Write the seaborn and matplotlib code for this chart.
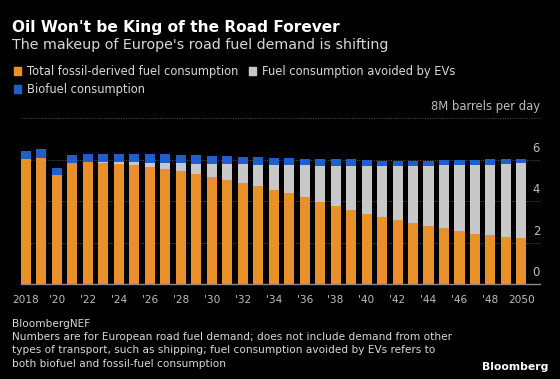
import numpy as np
import pandas as pd
import matplotlib
matplotlib.use("Agg")
import matplotlib.pyplot as plt
import matplotlib.transforms as mtransforms
from matplotlib.patches import Patch
import seaborn as sns

BG = "#000000"; ORANGE = "#E8912B"; GREY = "#C8C8C8"; BLUE = "#1E5FCC"
WHITE = "#FFFFFF"; LIGHT = "#D8D8D8"; MUTED = "#BDBDBD"; GRID = "#555555"

years = list(range(2018, 2051))
fossil = [6.05, 6.11, 5.25, 5.84, 5.87, 5.83, 5.79, 5.73, 5.65, 5.56, 5.44,
          5.32, 5.19, 5.05, 4.89, 4.73, 4.53, 4.38, 4.19, 3.98, 3.79, 3.59,
          3.38, 3.22, 3.10, 2.94, 2.81, 2.70, 2.59, 2.44, 2.37, 2.29, 2.21]
ev_avoided = [0.00, 0.00, 0.00, 0.00, 0.02, 0.04, 0.08, 0.14, 0.19, 0.27, 0.39,
              0.49, 0.60, 0.73, 0.89, 1.03, 1.20, 1.35, 1.54, 1.72, 1.89, 2.09,
              2.30, 2.46, 2.58, 2.74, 2.87, 3.03, 3.14, 3.32, 3.39, 3.52, 3.63]
biofuel = [0.38, 0.40, 0.35, 0.38, 0.41, 0.43, 0.43, 0.43, 0.46, 0.44, 0.39,
           0.41, 0.40, 0.41, 0.36, 0.38, 0.35, 0.38, 0.33, 0.35, 0.34, 0.34,
           0.30, 0.26, 0.26, 0.26, 0.26, 0.24, 0.24, 0.21, 0.26, 0.22, 0.22]
tick_years = ["2018", "'20", "'22", "'24", "'26", "'28", "'30", "'32", "'34",
              "'36", "'38", "'40", "'42", "'44", "'46", "'48", "2050"]
y_ticks = [0, 2, 4, 6, 8]
y_labels = ["0", "2", "4", "6", "8M barrels per day"]

df = pd.DataFrame({"year": years, "fossil": fossil, "ev": ev_avoided, "bio": biofuel})
df["fossil_ev"] = df["fossil"] + df["ev"]
df["total"] = df["fossil_ev"] + df["bio"]

sns.set_style("dark")
plt.rcParams["font.family"] = ["DejaVu Sans"]

fig = plt.figure(figsize=(5.6, 3.79), dpi=100, facecolor=BG)
ax = fig.add_axes([20.5/560, (379-284.3)/379, (540-20.5)/560, (284.3-118.3)/379])
ax.set_facecolor(BG)

# stacked look: draw totals back to front
for col, c in [("total", BLUE), ("fossil_ev", GREY), ("fossil", ORANGE)]:
    sns.barplot(data=df, x="year", y=col, color=c, saturation=1, width=0.65,
                linewidth=0, errorbar=None, ax=ax, zorder=3)

ax.set_xlim(-0.35, 33.2)
ax.set_ylim(0, 8)
ax.set_xlabel(""); ax.set_ylabel("")
ax.set_yticks(y_ticks)
ax.tick_params(axis="y", left=False, right=False, labelleft=False)
for v in y_ticks[1:]:
    ax.axhline(v, color=GRID, linestyle=(0, (1, 1.5)), linewidth=0.7, zorder=1)
ytrans = mtransforms.blended_transform_factory(ax.transAxes, ax.transData)
for v, lbl in zip(y_ticks, y_labels):
    ax.text(1.0, v + 0.55, lbl, transform=ytrans, ha="right", va="center",
            fontsize=8.4, color=MUTED)

ax.set_xticks(range(0, len(years), 2))
ax.set_xticklabels(tick_years)
ax.tick_params(axis="x", colors="#8A8A8A", length=3, width=0.8, pad=5,
               labelsize=7.6, labelcolor=MUTED)
for name, sp in ax.spines.items():
    sp.set_visible(name == "bottom")
ax.spines["bottom"].set_color("#8A8A8A")
ax.spines["bottom"].set_linewidth(1)
ax.spines["bottom"].set_zorder(4)
ax.grid(False)

fig.text(12/560, 1-27.3/379, "Oil Won't be King of the Road Forever", color=WHITE,
         fontsize=11.1, fontweight="bold", ha="left", va="center")
fig.text(12/560, 1-44.5/379, "The makeup of Europe's road fuel demand is shifting",
         color=LIGHT, fontsize=10.3, ha="left", va="center")

handles = [Patch(color=ORANGE, label="Total fossil-derived fuel consumption"),
           Patch(color=BLUE, label="Biofuel consumption"),
           Patch(color=GREY, label="Fuel consumption avoided by EVs")]
fig.legend(handles=handles, ncol=2, loc="upper left", bbox_to_anchor=(14/560, 1-65/379),
           frameon=False, fontsize=8.3, labelcolor=LIGHT, handlelength=0.62,
           handleheight=0.62, handletextpad=0.5, columnspacing=0.9,
           labelspacing=0.45, borderpad=0, borderaxespad=0)

fig.text(12/560, 1-324/379, "BloombergNEF", color=LIGHT, fontsize=7.6, ha="left", va="center")
notes = ("Numbers are for European road fuel demand; does not include demand from other\n"
         "types of transport, such as shipping; fuel consumption avoided by EVs refers to\n"
         "both biofuel and fossil-fuel consumption")
fig.text(12/560, 1-331.5/379, notes, color=LIGHT, fontsize=7.6, ha="left", va="top",
         linespacing=1.45)
fig.text(548/560, 1-367.3/379, "Bloomberg", color=WHITE, fontsize=7.8,
         fontweight="bold", ha="right", va="center")

fig.savefig("out.png", dpi=100, facecolor=BG)
